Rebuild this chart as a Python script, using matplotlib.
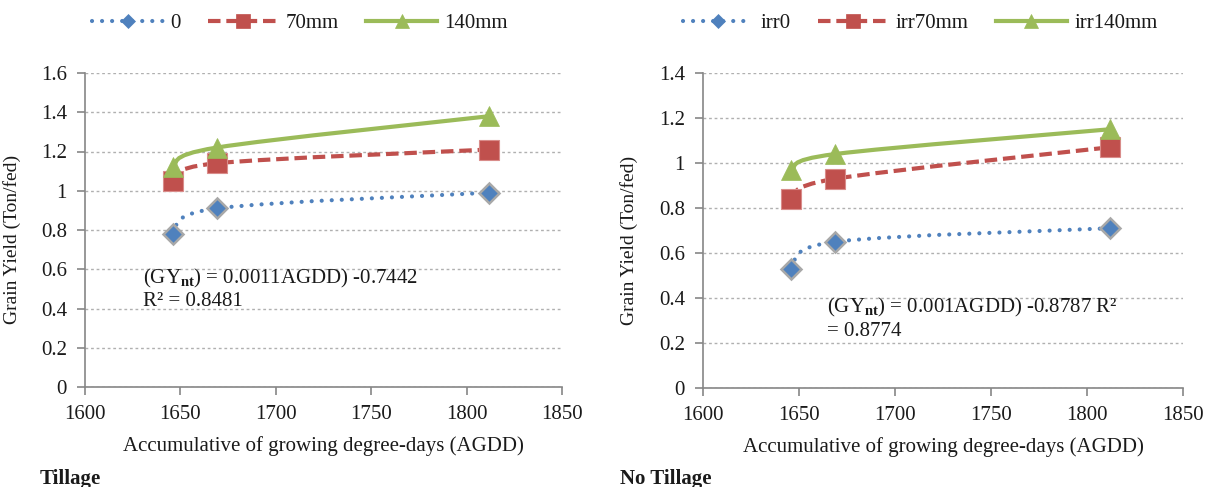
import matplotlib
matplotlib.use('Agg')
import matplotlib.pyplot as plt
from matplotlib.path import Path
from matplotlib.patches import PathPatch
from matplotlib.lines import Line2D
import numpy as np

# ---------------- data ----------------
agdd = [1646, 1669, 1812]
t_irr0 = [0.78, 0.91, 0.99]
t_irr70 = [1.05, 1.14, 1.21]
t_irr140 = [1.12, 1.22, 1.38]
nt_irr0 = [0.53, 0.65, 0.71]
nt_irr70 = [0.84, 0.93, 1.07]
nt_irr140 = [0.97, 1.04, 1.15]
t_labels = ['0', '70mm', '140mm']
nt_labels = ['irr0', 'irr70mm', 'irr140mm']
x_ticks = [1600, 1650, 1700, 1750, 1800, 1850]
t_yticks = [0, 0.2, 0.4, 0.6, 0.8, 1.0, 1.2, 1.4, 1.6]
nt_yticks = [0, 0.2, 0.4, 0.6, 0.8, 1.0, 1.2, 1.4]
t_eq = ['(GY$_{\\mathbf{nt}}$) = 0.0011AGDD) -0.7442', 'R² = 0.8481']
nt_eq = ['(GY$_{\\mathbf{nt}}$) = 0.001AGDD) -0.8787 R²', '= 0.8774']

# ---------------- style ----------------
plt.rcParams['font.family'] = ['Liberation Serif', 'DejaVu Serif']
plt.rcParams['mathtext.fontset'] = 'custom'
plt.rcParams['mathtext.rm'] = 'Liberation Serif'
plt.rcParams['mathtext.it'] = 'Liberation Serif:italic'
plt.rcParams['mathtext.bf'] = 'Liberation Serif:bold'

BLUE = '#4F81BD'
RED = '#C0504D'
GREEN = '#9BBB59'
AXC = '#868686'
TXT = '#1a1a1a'

styles = [
    dict(color=BLUE, ls=(0, (0.01, 2.4)), lw=3.0, cap='round', marker='D', ms=10.5,
         mec='#A8A8A8', mew=1.8, lms=7),
    dict(color=RED, ls=(0, (3.0, 1.4)), lw=3.0, cap='butt', marker='s', ms=14,
         mec='#D98C8A', mew=0.8, lms=10),
    dict(color=GREEN, ls='-', lw=3.0, cap='butt', marker='^', ms=15,
         mec=GREEN, mew=0.5, lms=10),
]


def smooth_path(x, y, t=1.0 / 6.0):
    pts = np.column_stack([np.asarray(x, float), np.asarray(y, float)])
    n = len(pts)
    verts = [pts[0]]
    codes = [Path.MOVETO]
    for i in range(n - 1):
        p0 = pts[max(i - 1, 0)]
        p1 = pts[i]
        p2 = pts[i + 1]
        p3 = pts[min(i + 2, n - 1)]
        c1 = p1 + (p2 - p0) * t
        c2 = p2 - (p3 - p1) * t
        verts += [c1, c2, p2]
        codes += [Path.CURVE4] * 3
    return Path(verts, codes)


W, H = 1208, 487
fig = plt.figure(figsize=(W / 100, H / 100), dpi=100)

ax1 = fig.add_axes([85 / W, 1 - 387 / H, 477 / W, 314 / H])
ax2 = fig.add_axes([703 / W, 1 - 388 / H, 480 / W, 315 / H])


def setup(ax, series, yticks, ymax):
    for ys, st in zip(series, styles):
        p = PathPatch(smooth_path(agdd, ys), fill=False, edgecolor=st['color'],
                      lw=st['lw'], linestyle=st['ls'], capstyle=st['cap'], zorder=3)
        ax.add_patch(p)
        ax.plot(agdd, ys, linestyle='none', marker=st['marker'], ms=st['ms'],
                mfc=st['color'], mec=st['mec'], mew=st['mew'], zorder=4)
    ax.set_xlim(1600, 1850)
    ax.set_ylim(0, ymax)
    ax.set_xticks(x_ticks)
    ax.set_yticks(yticks)
    ax.set_yticklabels(['%g' % v for v in yticks])
    for s in ['top', 'right']:
        ax.spines[s].set_visible(False)
    for s in ['left', 'bottom']:
        ax.spines[s].set_color(AXC)
        ax.spines[s].set_linewidth(1.2)
    ax.tick_params(direction='out', length=6, width=1.2, color=AXC,
                   labelsize=15, labelcolor=TXT, pad=7)
    ax.yaxis.grid(True, color='#B0B0B0', linestyle=(0, (2, 2)), lw=1.0)
    ax.set_axisbelow(True)
    ax.set_xlabel('Accumulative of growing degree-days (AGDD)', fontsize=15, color=TXT)
    ax.set_ylabel('Grain Yield (Ton/fed)', fontsize=14, color=TXT)
    ax.xaxis.set_label_coords(0.5, -0.155)
    ax.yaxis.set_label_coords(-0.135, 0.47)


setup(ax1, [t_irr0, t_irr70, t_irr140], t_yticks, 1.6)
setup(ax2, [nt_irr0, nt_irr70, nt_irr140], nt_yticks, 1.4)


def legend(labels, cx):
    handles = [Line2D([0], [0], color=st['color'], lw=st['lw'], linestyle=st['ls'],
                      dash_capstyle=st['cap'], marker=st['marker'], ms=st['lms'],
                      mfc=st['color'], mec=st['color'], mew=0.5)
               for st in styles]
    fig.legend(handles, labels, loc='center', bbox_to_anchor=(cx / W, 1 - 23 / H),
               ncol=3, frameon=False, fontsize=15, handlelength=3.4,
               handletextpad=0.35, columnspacing=1.3, labelcolor=TXT)


legend(t_labels, 300)
legend(nt_labels, 920)

# equations
fig.text(143 / W, 1 - 278 / H, t_eq[0], fontsize=15, color=TXT, va='center')
fig.text(143 / W, 1 - 302 / H, t_eq[1], fontsize=15, color=TXT, va='center')
fig.text(827 / W, 1 - 307 / H, nt_eq[0], fontsize=15, color=TXT, va='center')
fig.text(827 / W, 1 - 331 / H, nt_eq[1], fontsize=15, color=TXT, va='center')

# panel captions
fig.text(40 / W, 1 - 484 / H, 'Tillage', fontsize=15, fontweight='bold', color=TXT,
         va='baseline')
fig.text(620 / W, 1 - 484 / H, 'No Tillage', fontsize=15, fontweight='bold', color=TXT,
         va='baseline')

fig.savefig('out.png', dpi=100)
